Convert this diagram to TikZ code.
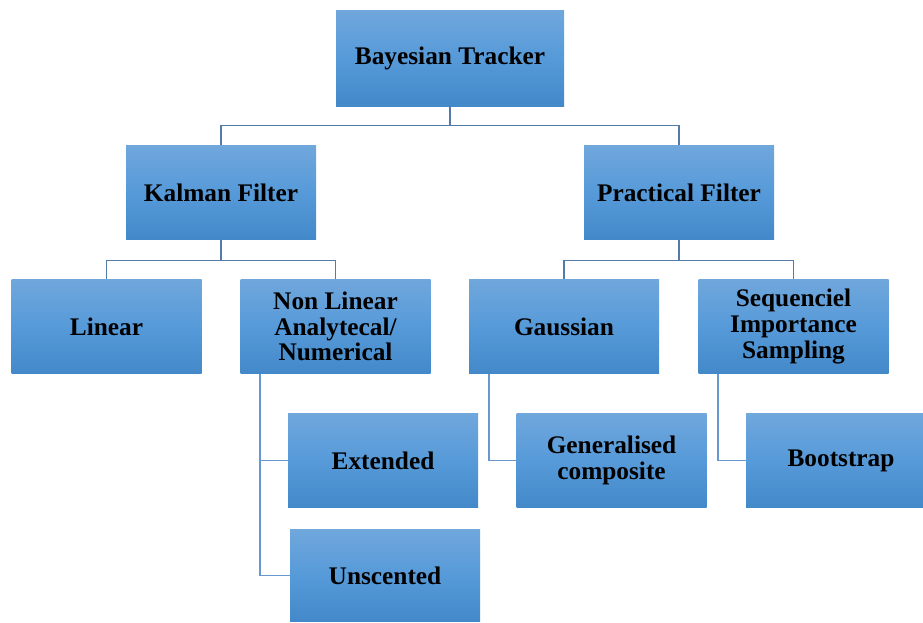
\documentclass[tikz,border=0pt]{standalone}
\usepackage{fontspec}
\setmainfont{Liberation Serif}
\definecolor{boxtop}{RGB}{112,167,220}
\definecolor{boxmid}{RGB}{86,154,217}
\definecolor{boxbot}{RGB}{67,136,200}
\definecolor{linkdark}{RGB}{84,122,170}
\definecolor{linklight}{RGB}{104,152,210}
\begin{document}
\begin{tikzpicture}[x=0.75pt,y=-0.75pt,
  box/.style={draw=none,top color=boxtop,bottom color=boxbot,middle color=boxmid,
    minimum width=142.5pt,minimum height=71pt,inner sep=2pt,align=center,
    font=\fontsize{19}{19.2}\selectfont\bfseries},
  link/.style={draw=linkdark,line width=0.9pt},
  sublink/.style={draw=linklight,line width=0.9pt}]
\useasboundingbox (0,0) rectangle (923,622);
% boxes
\node[box,minimum width=171pt,minimum height=72pt] (bt) at (450,58) {Bayesian Tracker};
\node[box] (kf) at (221,192.5) {Kalman Filter};
\node[box] (pf) at (679,192.5) {Practical Filter};
\node[box] (lin) at (106.5,326.5) {Linear};
\node[box] (nl) at (335.5,326.5) {Non Linear\\Analytecal/\\Numerical};
\node[box] (ga) at (564,326.5) {Gaussian};
\node[box] (sis) at (793.5,326.5) {Sequenciel\\Importance\\Sampling};
\node[box] (ext) at (383,460.5) {Extended};
\node[box,minimum height=69pt] (uns) at (385,575.5) {Unscented};
\node[box] (gc) at (611.5,460.5) {Generalised\\composite};
\node[box] (bs) at (841,460.5) {Bootstrap};
% tree links
\draw[link] (bt.south) -- ++(0,19) coordinate (j1);
\draw[link] (kf.north) |- (j1) -| (pf.north);
\draw[link] (kf.south) -- ++(0,20) coordinate (j2);
\draw[link] (lin.north) |- (j2) -| (nl.north);
\draw[link] (pf.south) -- ++(0,20) coordinate (j3);
\draw[link] (ga.north) |- (j3) -| (sis.north);
% side links
\draw[sublink] ([xshift=-56.6pt]nl.south) |- (ext.west);
\draw[sublink] ([xshift=-56.6pt]nl.south) |- (uns.west);
\draw[sublink] ([xshift=-56.25pt]ga.south) |- (gc.west);
\draw[sublink] ([xshift=-56.6pt]sis.south) |- (bs.west);
\end{tikzpicture}
\end{document}
